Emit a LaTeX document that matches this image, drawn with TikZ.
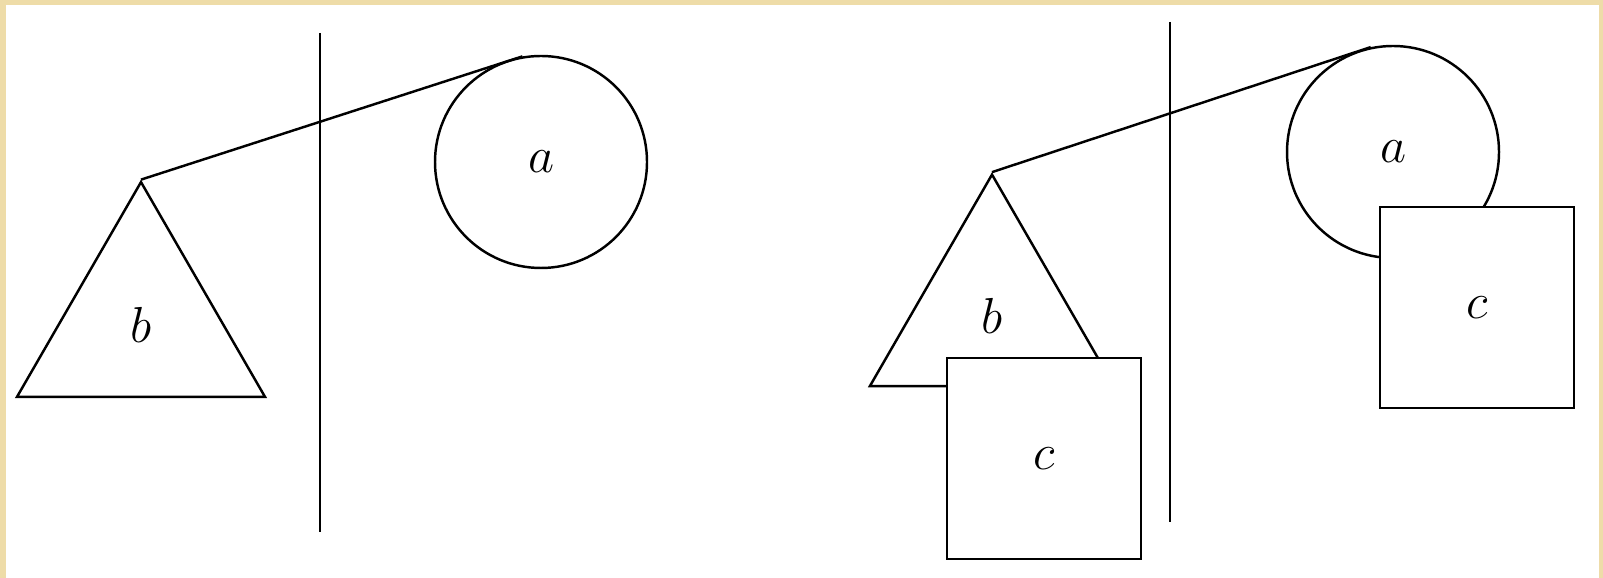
\documentclass[tikz,border=0pt]{standalone}
\usepackage{tikz}
\usetikzlibrary{shapes.geometric, positioning}
\definecolor{paperEdge}{HTML}{EEDCA8}
\tikzset{
  every picture/.append style = {line width=0.7pt},
  lbl/.style     = {font=\fontsize{14}{16}\selectfont},
  ball/.style    = {circle, draw, inner sep=0pt, minimum size=2.12cm, lbl},
  weight/.style  = {regular polygon, regular polygon sides=3, draw, inner sep=0pt, lbl},
  block/.style   = {rectangle, draw, fill=white, inner sep=0pt,
                    minimum width=1.94cm, minimum height=2.01cm, lbl},
}

\begin{document}
\begin{tikzpicture}[x=1cm, y=1cm,
    beam/.style={black, line join=round},
    wall/.style={black, line width=0.8pt}]
  % frame
  \fill[paperEdge] (0,0) rectangle (16.03,5.78);
  \fill[white] (0.06,0) rectangle (15.99,5.73);
  \useasboundingbox (0,0) rectangle (16.03,5.78);
  % left balance
  \node[weight, minimum size=2.864cm] (bL) at (1.41,2.527) {$b$};
  \node[ball] (aL) at (5.41,4.16) {$a$};
  \coordinate (wLtop) at (3.20,5.45);
  \coordinate (wLbot) at (3.20,0.46);
  \draw[wall] (wLtop) -- (wLbot);
  \draw[beam] (bL.corner 1) -- (aL.100);
  % right balance
  \node[weight, minimum size=2.82cm] (bR) at (9.92,2.624) {$b$};
  \node[ball] (aR) at (13.93,4.26) {$a$};
  \node[block] (cR1) at (10.44,1.195) {$c$};
  \node[block] (cR2) at (14.77,2.705) {$c$};
  \coordinate (wRtop) at (11.70,5.56);
  \coordinate (wRbot) at (11.70,0.56);
  \draw[wall] (wRtop) -- (wRbot);
  \draw[beam] (bR.corner 1) -- (aR.102);
\end{tikzpicture}
\end{document}
